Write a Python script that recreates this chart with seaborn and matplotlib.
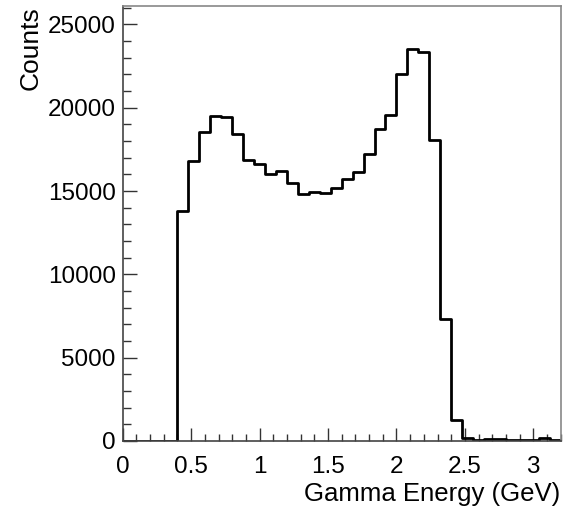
import numpy as np
import pandas as pd
import matplotlib
matplotlib.use("Agg")
import matplotlib.pyplot as plt
import seaborn as sns
from matplotlib.ticker import MultipleLocator

# Bin edges: 40 bins of 0.08 GeV from 0 to 3.2
bin_lo = 0.0
bin_hi = 3.2
n_bins = 40
counts = [0, 0, 0, 0, 0,
          13800, 16800, 18550, 19500, 19450,
          18450, 16850, 16600, 16050, 16200,
          15500, 14800, 14950, 14880, 15200,
          15750, 16150, 17200, 18750, 19550,
          22000, 23500, 23350, 18050, 7350,
          1250, 150, 60, 120, 130,
          50, 40, 30, 150, 40]
x_label = "Gamma Energy (GeV)"
y_label = "Counts"

edges = np.linspace(bin_lo, bin_hi, n_bins + 1)
centers = 0.5 * (edges[:-1] + edges[1:])
df = pd.DataFrame({"energy": centers, "counts": counts})

sns.set_style("white")
plt.rcParams['font.family'] = ['Liberation Sans', 'DejaVu Sans']

fig = plt.figure(figsize=(5.74, 5.09), dpi=100)
ax = fig.add_axes([0.2138, 0.1336, 0.9768 - 0.2138, 0.9882 - 0.1336])

sns.histplot(data=df, x="energy", weights="counts", bins=n_bins,
             binrange=(bin_lo, bin_hi), element="step", fill=False,
             color="black", linewidth=2.0, ax=ax)

ax.set_xlim(0, 3.2)
ax.set_ylim(0, 26100)
ax.xaxis.set_minor_locator(MultipleLocator(0.1))
ax.yaxis.set_major_locator(MultipleLocator(5000))
ax.yaxis.set_minor_locator(MultipleLocator(1000))
ax.set_xticks([0, 0.5, 1, 1.5, 2, 2.5, 3])
ax.set_xticklabels(["0", "0.5", "1", "1.5", "2", "2.5", "3"])

ax.tick_params(which="both", direction="in", bottom=True, left=True,
               top=False, right=False,
               colors="#333333", labelcolor="black", labelsize=17.5)
ax.tick_params(which="major", length=9.5, width=1.0)
ax.tick_params(which="minor", length=4.8, width=1.0)
ax.tick_params(axis="x", which="major", pad=11)
ax.tick_params(axis="y", which="major", length=10, pad=5)
ax.tick_params(axis="y", which="minor", length=5.5)

for s in ["left", "bottom"]:
    ax.spines[s].set_color("#444444")
    ax.spines[s].set_linewidth(1.2)
for s in ["top", "right"]:
    ax.spines[s].set_color("#888888")
    ax.spines[s].set_linewidth(1.2)
    ax.spines[s].set_visible(True)

ax.set_xlabel(x_label, fontsize=18.5, loc="right", labelpad=3, color="black")
ax.set_ylabel(y_label, fontsize=19, loc="top", labelpad=4, color="black")

fig.savefig("out.png", dpi=100)
